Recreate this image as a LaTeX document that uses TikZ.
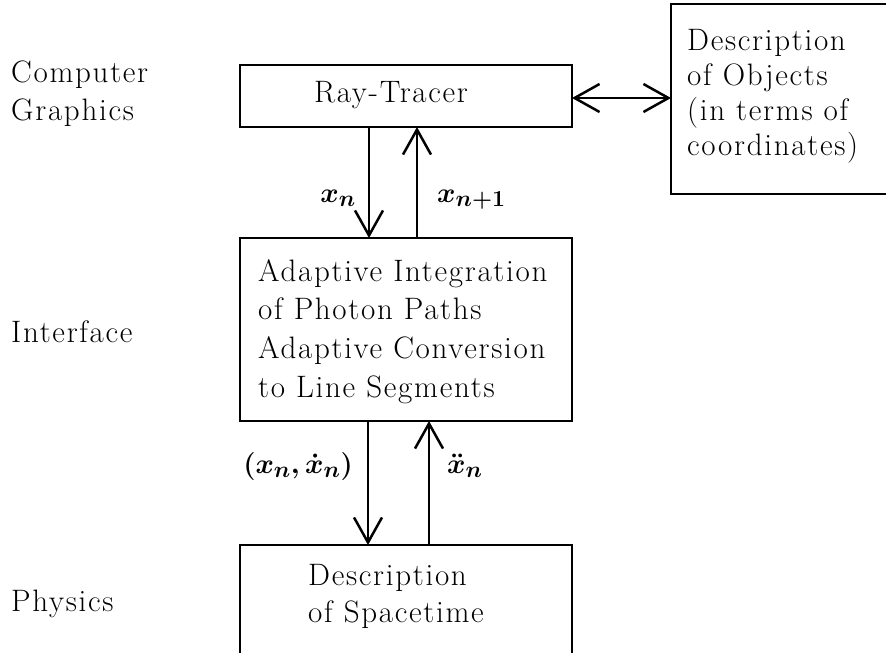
\RequirePackage{fix-cm}
\documentclass[tikz,border=0pt]{standalone}
\usepackage{fontspec}
\setmainfont{Latin Modern Roman}[LetterSpace=5.5]
\usetikzlibrary{arrows.meta}
\DeclareMathSizes{28}{28}{23}{18}

% left-aligned stack of lines; baseline of the box = baseline of the first line
\newcommand\linestack[2]{\vtop{\baselineskip=#1\lineskiplimit=-1000pt\lineskip=0pt
  \halign{##\hfil\cr#2\crcr}}}

\tikzset{
  box/.style={draw, line width=2.5pt, inner sep=0pt, outer sep=0pt, rectangle},
  txt/.style={inner sep=0pt, font=\fontsize{31}{38}\selectfont},
  mlab/.style={inner sep=0pt, font=\fontsize{28}{34}\selectfont\mathversion{bold}},
  flow/.style={line width=2.5pt, -{Straight Barb[length=25pt,width=28pt]}},
  twoway/.style={line width=2.5pt, {Straight Barb[length=25pt,width=28pt]}-{Straight Barb[length=25pt,width=28pt]}},
}

\begin{document}
\begin{tikzpicture}[x=1pt,y=-1pt]
\useasboundingbox (0,0) rectangle (886,653);
\clip (0,0) rectangle (886,653);

% boxes
\node[box, minimum width=332pt, minimum height=62pt]  (rt)  at (406,96)    {};
\node[box, minimum width=249pt, minimum height=190pt] (obj) at (795.5,99)  {};
\node[box, minimum width=332pt, minimum height=183pt] (itf) at (406,329.5) {};
\node[box, minimum width=332pt, minimum height=175pt] (st)  at (406,632.5) {};

% box texts
\node[txt, anchor=base] (rtT) at (391,102) {Ray-Tracer};
\node[txt, anchor=base west] (objT) at (687,50)
  {\linestack{35pt}{Description\cr of Objects\cr (in terms of\cr coordinates)}};
\node[txt, anchor=base west] (itfT) at (258,281)
  {\linestack{38.7pt}{Adaptive Integration\cr of Photon Paths\cr Adaptive Conversion\cr to Line Segments}};
\node[txt, anchor=base west] (stT) at (308,585)
  {\linestack{37pt}{Description\cr of Spacetime}};

% level labels
\node[txt, anchor=base west] (lvlCG) at (11,82)
  {\linestack{38pt}{Computer\cr Graphics}};
\node[txt, anchor=base west] (lvlIF) at (11,342) {Interface};
\node[txt, anchor=base west] (lvlPH) at (11,611) {Physics};

% arrow positions
\coordinate (a1) at (369,0);
\coordinate (a2) at (417,0);
\coordinate (a3) at (368,0);
\coordinate (a4) at (429,0);
\coordinate (hy) at (0,98);

\draw[flow] (rt.south -| a1) -- (itf.north -| a1);
\draw[flow] (itf.north -| a2) -- (rt.south -| a2);
\draw[flow] (itf.south -| a3) -- (st.north -| a3);
\draw[flow] (st.north -| a4) -- (itf.south -| a4);
\draw[twoway] (rt.east |- hy) -- (obj.west |- hy);

% arrow labels
\node[mlab, anchor=base east] (l1) at (356,202) {$x_n$};
\node[mlab, anchor=base west] (l2) at (437,202) {$x_{n+1}$};
\node[mlab, anchor=base east] (l3) at (353,473) {$(x_n,\dot{x}_n)$};
\node[mlab, anchor=base west] (l4) at (447,473) {$\ddot{x}_n$};
\end{tikzpicture}
\end{document}
